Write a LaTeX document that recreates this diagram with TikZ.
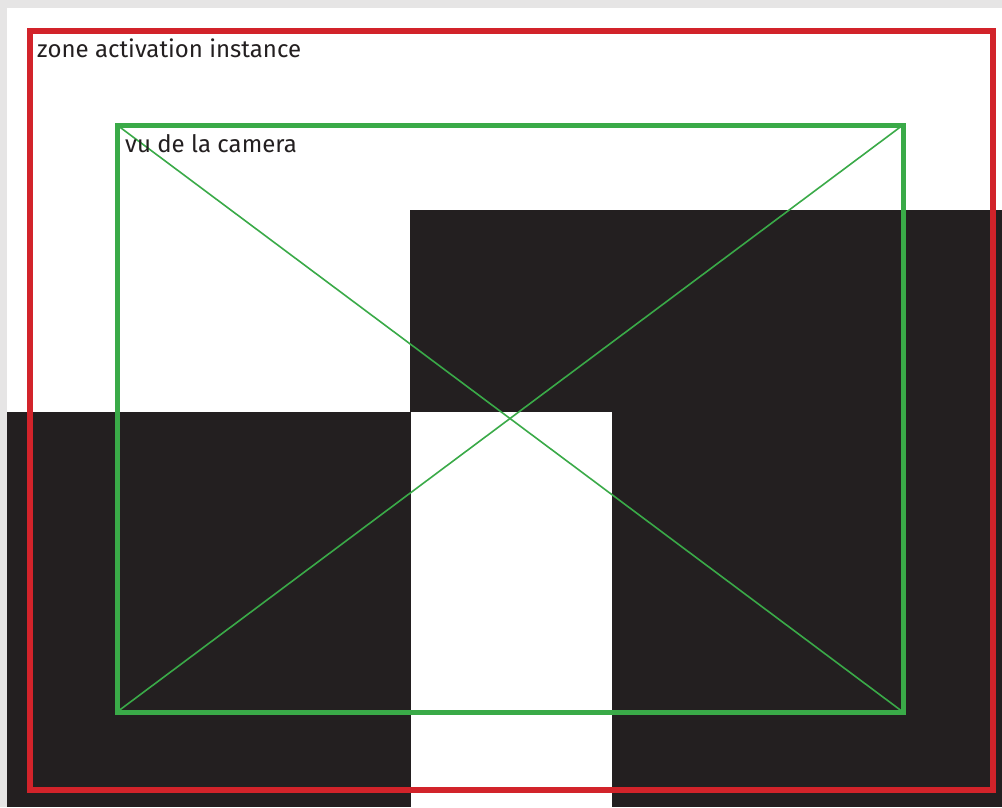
\documentclass[tikz,border=0pt]{standalone}
\usepackage{fontspec}
\setmainfont{Fira Sans}
\definecolor{bggray}{HTML}{E6E5E5}
\definecolor{ink}{HTML}{231F20}
\definecolor{zred}{HTML}{D2232A}
\definecolor{zgreen}{HTML}{3AAA48}
\begin{document}
\begin{tikzpicture}[x=1pt,y=-1pt,
  blackblock/.style={fill=ink,draw=none},
  zonebox/.style={draw=zred,line width=5.5pt},
  campbox/.style={draw=zgreen,line width=5pt},
  diag/.style={draw=zgreen,line width=1.6pt},
  lbl/.style={anchor=base west,inner sep=0pt,text=ink,font=\fontsize{24}{28}\selectfont}]
\useasboundingbox (0,0) rectangle (1002,807);
\fill[bggray] (0,0) rectangle (1002,807);
\fill[white] (7,8) rectangle (1002,807);
% black blocks
\fill[blackblock] (410,210) rectangle (1002,412);
\fill[blackblock] (7,412) rectangle (411,807);
\fill[blackblock] (612,412) rectangle (1002,807);
% red zone
\draw[zonebox] (30,31) rectangle (993,790);
\node[lbl] (zone) at (37,57) {zone activation instance};
% green camera view
\coordinate (tl) at (117,125);
\coordinate (tr) at (903,125);
\coordinate (br) at (903,712);
\coordinate (bl) at (117,712);
\draw[diag] (tl) -- (br);
\draw[diag] (tr) -- (bl);
\draw[campbox] (tl) rectangle (br);
\node[lbl] (cam) at (125,152) {vu de la camera};
\end{tikzpicture}
\end{document}
